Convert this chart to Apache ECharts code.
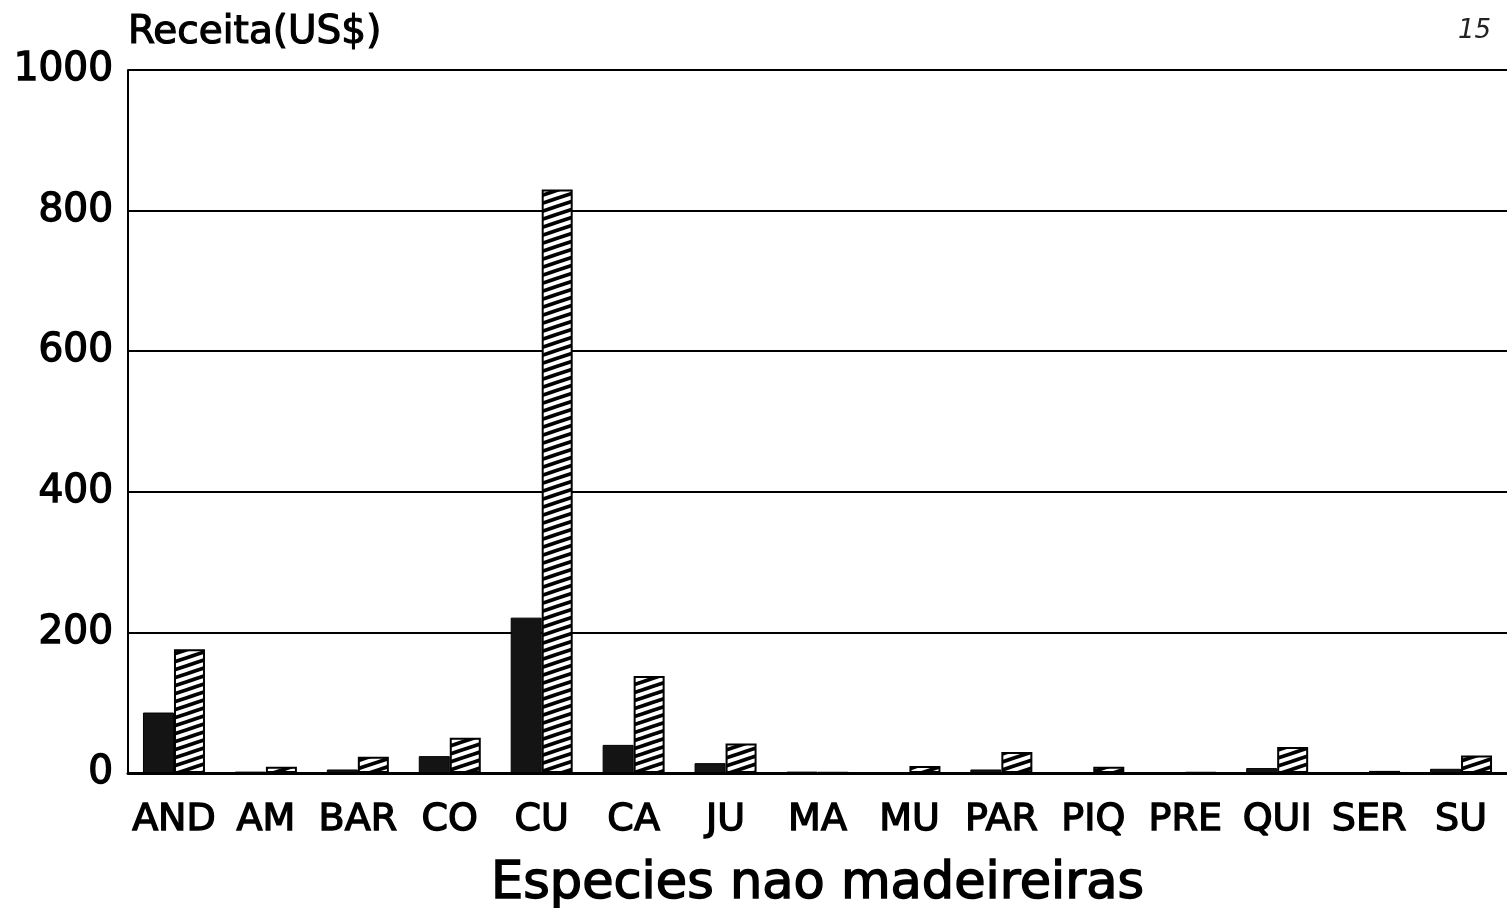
<!DOCTYPE html>
<html>
<head>
<meta charset="utf-8">
<title>Receita</title>
<script src="https://cdn.jsdelivr.net/npm/echarts@6/dist/echarts.min.js"></script>
<style>
    html, body {margin: 0; padding: 0; background: #fff;}
    #container {width: 1507px; height: 908px;}
</style>
</head>
<body>
<div id="container"></div>
<script>
// especies e receitas (US$)
var especies = ['AND', 'AM', 'BAR', 'CO', 'CU', 'CA', 'JU', 'MA', 'MU', 'PAR', 'PIQ', 'PRE', 'QUI', 'SER', 'SU'];
var receitaEscura = [86, 2, 5, 24, 221, 40, 14, 2, 1, 5, 1, 1, 7, 1, 6];
var receitaHachurada = [176, 9, 23, 50, 830, 138, 42, 1, 10, 30, 9, 1, 37, 3, 25];
var yTicks = [0, 200, 400, 600, 800, 1000];

var fonte = 'DejaVu Sans';

/**
 * padrao de listras diagonais
 */
var hachura = function () {
    var c = document.createElement('canvas');
    c.width = 24;
    c.height = 8;
    var ctx = c.getContext('2d');
    ctx.fillStyle = '#fff';
    ctx.fillRect(0, 0, 24, 8);
    ctx.strokeStyle = '#000';
    ctx.lineWidth = 3.6;
    for (var dy = -8; dy <= 8; dy += 8) {
        ctx.beginPath();
        ctx.moveTo(-2, 8 + dy + 2 / 3);
        ctx.lineTo(26, dy - 2 / 3);
        ctx.stroke();
    }
    return c;
};

var dom = document.getElementById('container');
var myChart = echarts.init(dom);

var option = {
    animation: false,
    backgroundColor: '#fff',
    grid: {
        left: 128,
        right: 0,
        top: 70,
        bottom: 135,
        containLabel: false,
        outerBoundsMode: 'none'
    },
    graphic: [{
        type: 'text',
        left: 1458,
        top: 18,
        style: {
            text: '15',
            font: 'italic 26px ' + fonte,
            fill: '#222'
        }
    }],
    xAxis: {
        type: 'category',
        data: especies,
        name: 'Especies nao madeireiras',
        nameLocation: 'middle',
        nameGap: 86,
        nameTextStyle: {
            fontFamily: fonte,
            fontSize: 51,
            color: '#000',
            textBorderColor: '#000',
            textBorderWidth: 1.5
        },
        axisLine: {lineStyle: {color: '#000', width: 3}},
        axisTick: {show: false},
        axisLabel: {
            fontFamily: fonte,
            fontSize: 38,
            color: '#000',
            margin: 28,
            interval: 0,
            textBorderColor: '#000',
            textBorderWidth: 1.4
        }
    },
    yAxis: {
        type: 'value',
        min: yTicks[0],
        max: yTicks[yTicks.length - 1],
        interval: 200,
        name: 'Receita(US$)',
        nameLocation: 'end',
        nameGap: 18,
        nameTextStyle: {
            fontFamily: fonte,
            fontSize: 39,
            color: '#000',
            align: 'left',
            textBorderColor: '#000',
            textBorderWidth: 1.2
        },
        axisLine: {show: true, lineStyle: {color: '#000', width: 2}},
        axisTick: {show: false},
        splitLine: {lineStyle: {color: '#000', width: 2}},
        axisLabel: {
            fontFamily: fonte,
            fontSize: 39,
            color: '#000',
            margin: 15,
            formatter: function (v) { return String(v); },
            textBorderColor: '#000',
            textBorderWidth: 1.4
        }
    },
    series: [
        {
            name: 'escura',
            type: 'bar',
            barWidth: 31,
            barGap: '0%',
            data: receitaEscura,
            itemStyle: {
                color: '#141414',
                borderColor: '#000',
                borderWidth: 1
            }
        },
        {
            name: 'hachurada',
            type: 'bar',
            barWidth: 31,
            data: receitaHachurada,
            itemStyle: {
                color: {image: hachura(), repeat: 'repeat'},
                borderColor: '#000',
                borderWidth: 2
            }
        }
    ]
};

if (option && typeof option === 'object') {
    myChart.setOption(option);
}
</script>
</body>
</html>
